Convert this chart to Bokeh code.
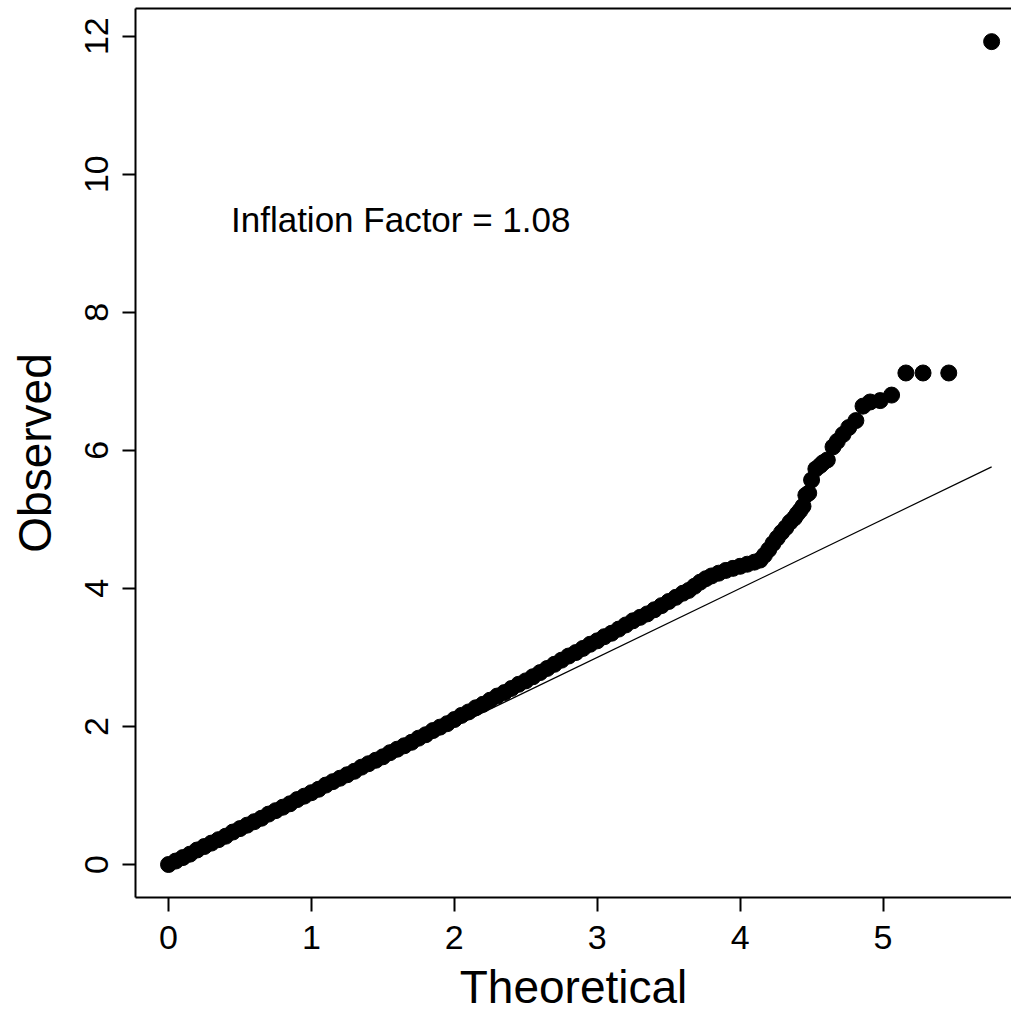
from bokeh.plotting import figure
from bokeh.models import Range1d, FixedTicker, LinearAxis, Label, ColumnDataSource
from bokeh.embed import file_html
from bokeh.resources import INLINE

# Bulk of the QQ points (dense band)
theoretical = [
    0.00, 0.05, 0.10, 0.15, 0.20, 0.25, 0.30, 0.35, 0.40, 0.45,
    0.50, 0.55, 0.60, 0.65, 0.70, 0.75, 0.80, 0.85, 0.90, 0.95,
    1.00, 1.05, 1.10, 1.15, 1.20, 1.25, 1.30, 1.35, 1.40, 1.45,
    1.50, 1.55, 1.60, 1.65, 1.70, 1.75, 1.80, 1.85, 1.90, 1.95,
    2.00, 2.05, 2.10, 2.15, 2.20, 2.25, 2.30, 2.35, 2.40, 2.45,
    2.50, 2.55, 2.60, 2.65, 2.70, 2.75, 2.80, 2.85, 2.90, 2.95,
    3.00, 3.05, 3.10, 3.15, 3.20, 3.25, 3.30, 3.35, 3.40, 3.45,
    3.50, 3.55, 3.60, 3.64, 3.68, 3.72, 3.76, 3.80, 3.85, 3.90,
    3.95, 4.00, 4.05, 4.10, 4.14, 4.17, 4.20, 4.23, 4.26, 4.29,
    4.32, 4.35, 4.38,
    # sparse upper tail
    4.40, 4.42, 4.44, 4.46, 4.48, 4.50, 4.53, 4.56, 4.58, 4.61,
    4.65, 4.68, 4.72, 4.76, 4.81, 4.86, 4.91, 4.98, 5.06, 5.16,
    5.28, 5.46, 5.76,
]
observed = [
    0.00, 0.05, 0.10, 0.15, 0.21, 0.26, 0.31, 0.36, 0.41, 0.47,
    0.52, 0.57, 0.62, 0.67, 0.73, 0.78, 0.83, 0.88, 0.94, 0.99,
    1.04, 1.09, 1.15, 1.20, 1.25, 1.30, 1.35, 1.41, 1.46, 1.51,
    1.56, 1.62, 1.67, 1.72, 1.77, 1.83, 1.88, 1.94, 1.99, 2.04,
    2.10, 2.16, 2.21, 2.27, 2.32, 2.38, 2.44, 2.49, 2.55, 2.61,
    2.66, 2.72, 2.78, 2.84, 2.90, 2.96, 3.02, 3.07, 3.13, 3.19,
    3.24, 3.30, 3.35, 3.41, 3.47, 3.53, 3.58, 3.63, 3.69, 3.75,
    3.81, 3.87, 3.93, 3.97, 4.03, 4.09, 4.14, 4.18, 4.22, 4.26,
    4.29, 4.32, 4.35, 4.38, 4.41, 4.48, 4.56, 4.65, 4.73, 4.81,
    4.88, 4.96, 5.02,
    5.08, 5.13, 5.19, 5.35, 5.38, 5.57, 5.73, 5.78, 5.82, 5.86,
    6.05, 6.13, 6.23, 6.33, 6.43, 6.64, 6.70, 6.72, 6.80, 7.12,
    7.12, 7.12, 11.92,
]

# Expected line (observed = theoretical)
ref_x = [0.0, 5.76]
ref_y = [0.0, 5.76]

x_ticks = [0, 1, 2, 3, 4, 5]
y_ticks = [0, 2, 4, 6, 8, 10, 12]
annotation = "Inflation Factor = 1.08"
annotation_x = 1.625
annotation_y = 9.35

FONT = "Liberation Sans"

p = figure(
    width=1011, height=1016,
    output_backend="svg", toolbar_location=None,
    x_range=Range1d(-0.231, 5.899), y_range=Range1d(-0.478, 12.40),
    min_border_left=135, min_border_right=0,
    min_border_top=8, min_border_bottom=119,
)
p.outline_line_color = None
p.grid.visible = False
p.background_fill_color = "white"
p.border_fill_color = "white"

p.line(ref_x, ref_y, line_color="black", line_width=1.2)
src = ColumnDataSource(dict(x=theoretical, y=observed))
p.scatter("x", "y", source=src, size=16, fill_color="black", line_color="black")

# bottom axis
xa = p.xaxis[0]
xa.ticker = FixedTicker(ticks=x_ticks)
xa.axis_label = "Theoretical"
xa.axis_label_text_font = FONT
xa.axis_label_text_font_size = "46px"
xa.axis_label_text_font_style = "normal"
xa.axis_label_text_color = "black"
xa.axis_label_standoff = 9
xa.major_label_text_font = FONT
xa.major_label_text_font_size = "34px"
xa.major_label_text_color = "black"
xa.major_label_standoff = 14
xa.major_tick_out = 14
xa.major_tick_in = 0
xa.minor_tick_out = 0
xa.minor_tick_in = 0
xa.axis_line_width = 2
xa.major_tick_line_width = 2
xa.axis_line_color = "black"

# left axis
ya = p.yaxis[0]
ya.ticker = FixedTicker(ticks=y_ticks)
ya.axis_label = "Observed"
ya.axis_label_text_font = FONT
ya.axis_label_text_font_size = "46px"
ya.axis_label_text_font_style = "normal"
ya.axis_label_text_color = "black"
ya.axis_label_standoff = 22
ya.major_label_text_font = FONT
ya.major_label_text_font_size = "34px"
ya.major_label_text_color = "black"
ya.major_label_orientation = "parallel"
ya.major_label_standoff = 14
ya.major_tick_out = 13
ya.major_tick_in = 0
ya.minor_tick_out = 0
ya.minor_tick_in = 0
ya.axis_line_width = 2
ya.major_tick_line_width = 2
ya.axis_line_color = "black"

# top border of the box
top = LinearAxis(ticker=FixedTicker(ticks=[]), axis_line_width=2, axis_line_color="black",
                 major_tick_out=0, major_tick_in=0, minor_tick_out=0, minor_tick_in=0,
                 major_label_text_font_size="0px")
p.add_layout(top, "above")

p.add_layout(Label(x=annotation_x, y=annotation_y, text=annotation,
                   text_font=FONT, text_font_size="35px", text_color="black",
                   text_align="center", text_baseline="alphabetic"))

open("out.html", "w").write(file_html(p, INLINE))
